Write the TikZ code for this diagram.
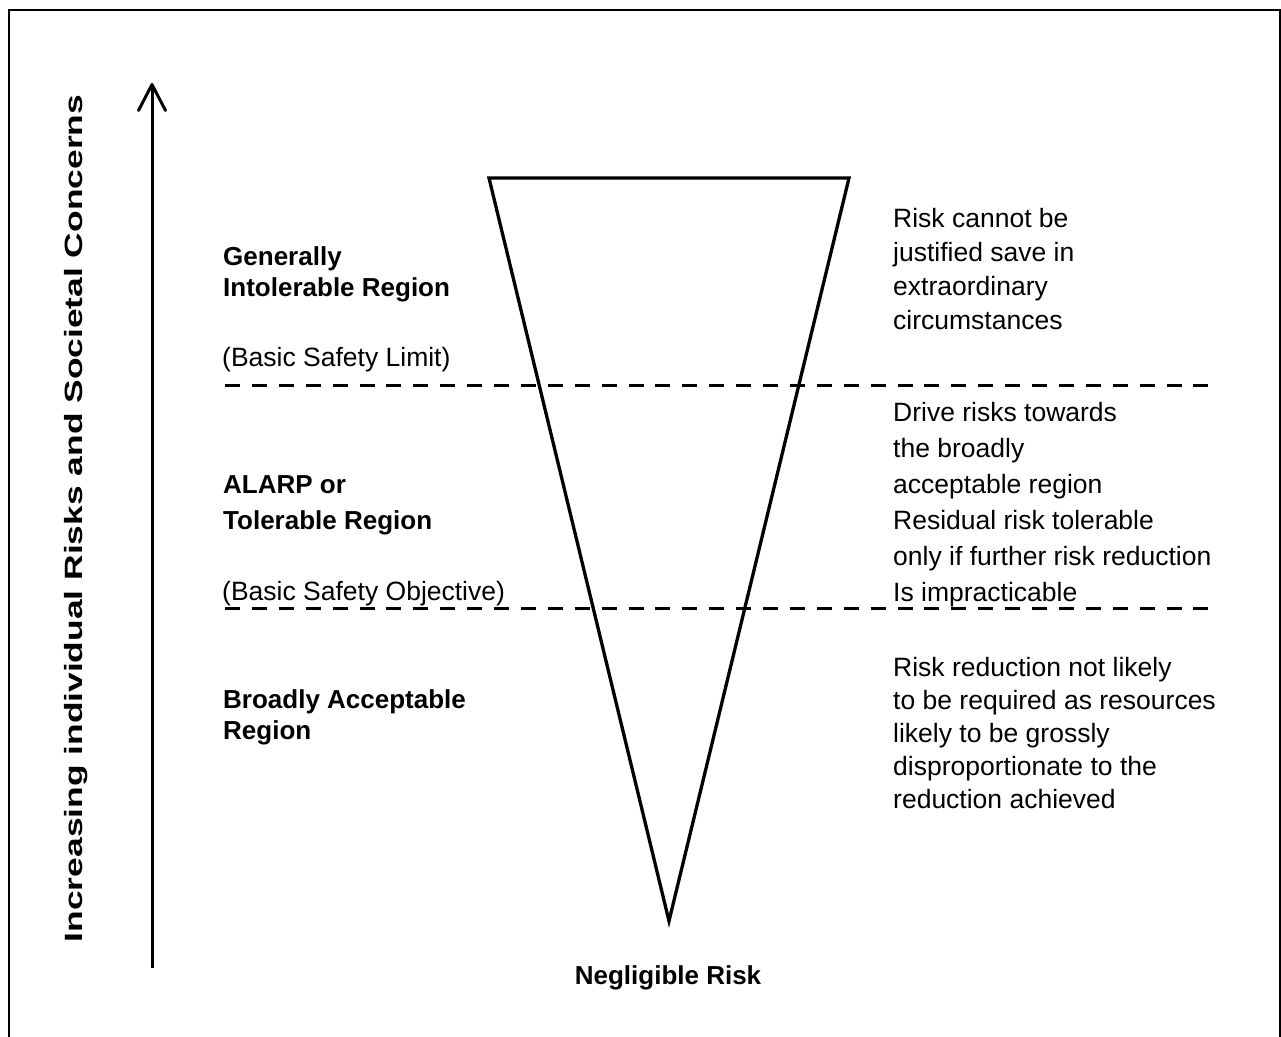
\documentclass[tikz,border=0pt]{standalone}
\usepackage{fontspec}
\setmainfont{Liberation Sans}
\usetikzlibrary{arrows.meta}
\tikzset{
  txt/.style={anchor=base west, inner sep=0pt, align=left, font=\fontsize{26.5}{34}\selectfont},
  btxt/.style={txt, font=\fontsize{26}{31}\selectfont\bfseries},
  dashline/.style={line width=3.3pt, dash pattern=on 15pt off 11.9pt},
  tri/.style={line width=3.3pt, line join=miter},
}
\begin{document}
\begin{tikzpicture}[x=1pt,y=-1pt]
\useasboundingbox (0,0) rectangle (1281,1036);
% frame
\draw[line width=2pt] (9,1045) -- (9,10) -- (1280,10) -- (1280,1045);
% axis arrow
\coordinate (abot) at (152,968);
\coordinate (atop) at (152,83);
\draw[line width=3pt, -{Straight Barb[length=26pt,width=27pt,line cap=round,line join=round]}] (abot) -- (atop);
\node[rotate=90, anchor=base, inner sep=0pt, font=\fontsize{25}{30}\selectfont\bfseries] (ylab) at (82,518.5)
  {\scalebox{1.415}[1]{Increasing individual Risks and Societal Concerns}};
% triangle
\coordinate (tl) at (489,178);
\coordinate (tr) at (849,178);
\coordinate (tip) at (669,921);
\draw[tri] (tl) -- (tr) -- (tip) -- cycle;
% dashed lines
\coordinate (d1a) at (225,385.5);
\coordinate (d1b) at (1210,385.5);
\coordinate (d2a) at (225,608.5);
\coordinate (d2b) at (1210,608.5);
\draw[dashline] (d1a) -- (d1b);
\draw[dashline] (d2a) -- (d2b);
% left labels (anchored at the baseline of the last line)
\node[btxt] (gen) at (223,296) {Generally\\Intolerable Region};
\node[txt] (bsl) at (222,366) {(Basic Safety Limit)};
\node[btxt, font=\fontsize{26}{36}\selectfont\bfseries] (alarp) at (223,529) {ALARP or\\Tolerable Region};
\node[txt] (bso) at (222,600) {(Basic Safety Objective)};
\node[btxt] (bar) at (223,739) {Broadly Acceptable\\Region};
\node[anchor=base, inner sep=0pt, font=\fontsize{26}{30}\selectfont\bfseries] (neg) at (668,984) {Negligible Risk};
% right labels
\node[txt] (r1) at (893,329) {Risk cannot be\\justified save in\\extraordinary\\circumstances};
\node[txt, font=\fontsize{26.5}{36}\selectfont] (r2) at (893,601) {Drive risks towards\\the broadly\\acceptable region\\Residual risk tolerable\\only if further risk reduction\\Is impracticable};
\node[txt, font=\fontsize{26.5}{33}\selectfont] (r3) at (893,808) {Risk reduction not likely\\to be required as resources\\likely to be grossly\\disproportionate to the\\reduction achieved};
\end{tikzpicture}
\end{document}
